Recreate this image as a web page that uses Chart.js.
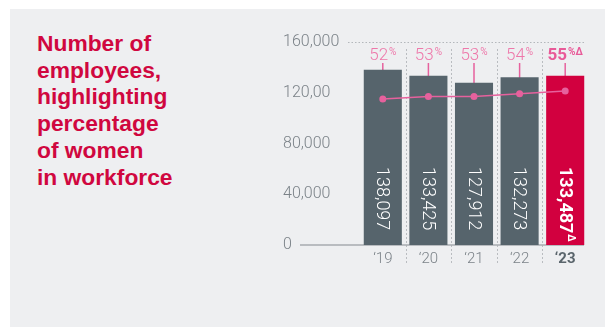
<!DOCTYPE html>
<html>
<head>
<meta charset="utf-8">
<script src="https://cdn.jsdelivr.net/npm/chart.js@4/dist/chart.umd.min.js"></script>
<style>
html,body{margin:0;padding:0;width:605px;height:328px;overflow:hidden;background:#fff;}
#panel{position:absolute;left:10px;top:9px;width:595px;height:318px;background:#eeeff1;}
#title{position:absolute;left:37px;top:30px;font-family:"Liberation Sans",Arial,sans-serif;font-weight:bold;font-size:22.8px;line-height:26.7px;color:#d0073f;}
#wrap{position:absolute;left:0;top:0;width:605px;height:328px;}
</style>
</head>
<body>
<div id="panel"></div>
<div id="title">Number of<br>employees,<br>highlighting<br>percentage<br>of women<br>in workforce</div>
<div id="wrap"><canvas id="c" width="605" height="328"></canvas></div>
<script>
const years = ["‘19", "‘20", "‘21", "‘22", "‘23"];
const employees = [138097, 133425, 127912, 132273, 133487];
const employeeLabels = ["138,097", "133,425", "127,912", "132,273", "133,487"];
const womenPct = [52, 53, 53, 54, 55];
const yTickLabels = ["0", "40,000", "80,000", "120,00", "160,000"];

const GREY_BAR = '#56646c';
const RED = '#d2003f';
const PINK = '#e6619d';
const PINK_TXT = '#ee78aa';
const TICK = '#7b8288';
const FONT = 'Roboto, "Liberation Sans", sans-serif';

const overlay = {
  id: 'overlay',
  beforeDatasetsDraw(chart) {
    const ctx = chart.ctx, x = chart.scales.x, y = chart.scales.y;
    const meta = chart.getDatasetMeta(1);
    ctx.save();
    ctx.strokeStyle = '#b9bcc0';
    ctx.lineWidth = 1;
    ctx.setLineDash([2, 2]);
    for (let i = 0; i < years.length - 1; i++) {
      const sx = Math.round((x.getPixelForValue(i) + x.getPixelForValue(i + 1)) / 2) + 0.5;
      ctx.beginPath();
      ctx.moveTo(sx, y.getPixelForValue(160000) + 7);
      ctx.lineTo(sx, y.getPixelForValue(0) + 18);
      ctx.stroke();
    }
    const ty = Math.round(y.getPixelForValue(160000)) + 0.5;
    ctx.strokeStyle = '#b3b7bb';
    ctx.setLineDash([1.5, 2]);
    ctx.beginPath();
    ctx.moveTo(chart.chartArea.left - 12, ty);
    ctx.lineTo(chart.chartArea.right - 3, ty);
    ctx.stroke();
    ctx.setLineDash([]);
    ctx.strokeStyle = '#a7abaf';
    ctx.lineWidth = 1.5;
    const zy = y.getPixelForValue(0);
    ctx.beginPath();
    ctx.moveTo(y.left + 17, zy);
    ctx.lineTo(chart.chartArea.right - 4, zy);
    ctx.stroke();
    ctx.strokeStyle = PINK;
    ctx.lineWidth = 1.5;
    meta.data.forEach((pt) => {
      ctx.beginPath();
      ctx.moveTo(pt.x, pt.y);
      ctx.lineTo(pt.x, y.getPixelForValue(160000) + 21);
      ctx.stroke();
    });
    ctx.restore();
  },
  afterDatasetsDraw(chart) {
    const ctx = chart.ctx, y = chart.scales.y;
    const barMeta = chart.getDatasetMeta(0);
    const lineMeta = chart.getDatasetMeta(1);
    ctx.save();
    const startY = y.getPixelForValue(61500);
    barMeta.data.forEach((bar, i) => {
      const last = i === years.length - 1;
      ctx.save();
      ctx.translate(bar.x, startY);
      ctx.rotate(Math.PI / 2);
      ctx.fillStyle = '#ffffff';
      ctx.textBaseline = 'middle';
      ctx.textAlign = 'left';
      ctx.font = (last ? 'bold ' : '300 ') + '18px ' + FONT;
      ctx.fillText(employeeLabels[i], 0, 1);
      if (last) {
        const w = ctx.measureText(employeeLabels[i]).width;
        ctx.font = 'bold 10px ' + FONT;
        ctx.fillText('Δ', w + 1, -5);
      }
      ctx.restore();
    });
    const ly = y.getPixelForValue(160000) + 14;
    lineMeta.data.forEach((pt, i) => {
      const last = i === years.length - 1;
      const main = String(womenPct[i]);
      const sup = last ? '%Δ' : '%';
      ctx.font = (last ? 'bold ' : '300 ') + '17px ' + FONT;
      const w1 = ctx.measureText(main).width;
      ctx.font = (last ? 'bold ' : '') + '10px ' + FONT;
      const w2 = ctx.measureText(sup).width;
      const x0 = pt.x - (w1 + w2 + 1) / 2;
      ctx.fillStyle = last ? '#e85a98' : PINK_TXT;
      ctx.textBaseline = 'middle';
      ctx.textAlign = 'left';
      ctx.font = (last ? 'bold ' : '300 ') + '17px ' + FONT;
      ctx.fillText(main, x0, ly);
      ctx.font = (last ? 'bold ' : '') + '10px ' + FONT;
      ctx.fillText(sup, x0 + w1 + 1, ly - 4);
    });
    ctx.restore();
  }
};

new Chart(document.getElementById('c'), {
  data: {
    labels: years,
    datasets: [
      {
        type: 'bar',
        data: employees,
        backgroundColor: employees.map((v, i) => i === employees.length - 1 ? RED : GREY_BAR),
        barPercentage: 0.835,
        categoryPercentage: 1,
        yAxisID: 'y',
        order: 1
      },
      {
        type: 'line',
        data: womenPct,
        yAxisID: 'y1',
        borderColor: PINK,
        backgroundColor: PINK,
        borderWidth: 1.5,
        pointRadius: 3.5,
        pointBackgroundColor: PINK,
        pointBorderWidth: 0,
        tension: 0,
        order: 0
      }
    ]
  },
  options: {
    responsive: false,
    animation: false,
    devicePixelRatio: 1,
    layout: { padding: { left: 283, right: 17, top: 42, bottom: 0 } },
    plugins: { legend: { display: false }, tooltip: { enabled: false }, title: { display: false } },
    scales: {
      x: {
        type: 'category',
        offset: true,
        grid: { display: false, drawTicks: false },
        border: { display: false },
        ticks: {
          padding: 5,
          color: (c) => c.index === years.length - 1 ? '#5a656c' : TICK,
          font: (c) => ({ family: FONT, size: 15, weight: c.index === years.length - 1 ? 'bold' : '300' })
        },
        afterFit: (s) => { s.height = 83; }
      },
      y: {
        position: 'left',
        min: 0,
        max: 160000,
        grid: { display: false, drawTicks: false },
        border: { display: false },
        ticks: {
          stepSize: 40000,
          crossAlign: 'far',
          padding: 0,
          color: TICK,
          font: { family: FONT, size: 16, weight: '300' },
          callback: (v, i) => yTickLabels[i]
        },
        afterFit: (s) => { s.width = 77; }
      },
      y1: {
        display: false,
        min: -2.75,
        max: 73.4
      }
    }
  },
  plugins: [overlay]
});
</script>
</body>
</html>
